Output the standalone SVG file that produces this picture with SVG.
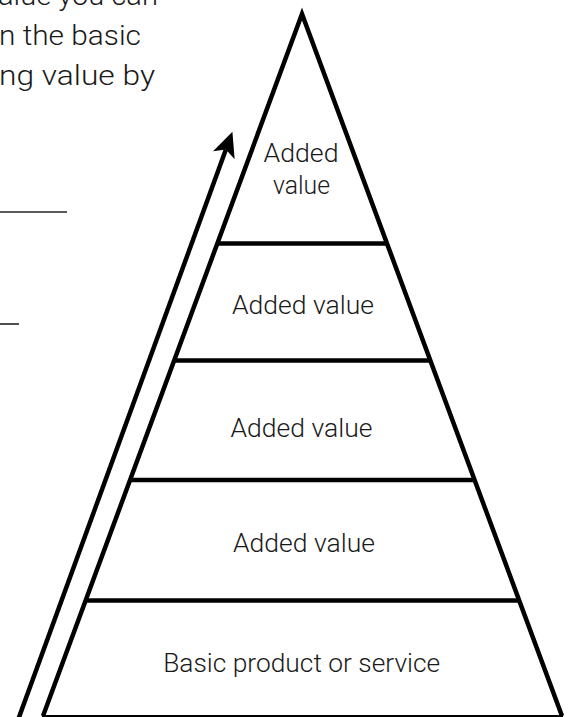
<svg xmlns="http://www.w3.org/2000/svg" width="572" height="717" viewBox="0 0 572 717">
  <style>
    .edge { fill: none; stroke: #000; stroke-width: 4.5; stroke-linejoin: miter; stroke-miterlimit: 10; }
    .base { stroke: #000; stroke-width: 2; }
    .divider { stroke: #000; stroke-width: 4.5; stroke-linecap: butt; }
    .rule { stroke: #222; stroke-width: 1.6; }
    .label { font-family: Roboto, "Liberation Sans", sans-serif; font-weight: 300; font-size: 25px; fill: #1a1a1a; text-anchor: middle; }
    .prose { font-family: Roboto, "Liberation Sans", sans-serif; font-weight: 300; font-size: 27px; fill: #1a1a1a; }
    .shaft { fill: none; stroke: #000; stroke-width: 4.5; }
  </style>
  <defs>
    <marker id="arrowhead" markerUnits="userSpaceOnUse" viewBox="-26 -13 28 26" markerWidth="28" markerHeight="26" refX="-19" refY="0" orient="auto">
      <path d="M0,0 L-25,-11.5 L-19,0 L-25,11.5 Z" fill="#000"/>
    </marker>
  </defs>

  <rect width="572" height="717" fill="#fff"/>

  <!-- question text running in from the left margin -->
  <g id="question-text">
    <text class="prose" x="-2" y="5" textLength="160" lengthAdjust="spacingAndGlyphs">alue you can</text>
    <text class="prose" x="-1" y="45" textLength="142" lengthAdjust="spacingAndGlyphs">n the basic</text>
    <text class="prose" x="-1" y="85" textLength="156" lengthAdjust="spacingAndGlyphs">ng value by</text>
    <line class="rule" x1="0" y1="212" x2="67" y2="212"/>
    <line class="rule" x1="0" y1="324" x2="19" y2="324"/>
  </g>

  <!-- pyramid outline -->
  <g id="pyramid">
    <polyline class="edge" points="43,716 302,14 562,716"/>
    <line class="base" x1="42" y1="716" x2="563" y2="716"/>
  </g>

  <!-- tiers, top to bottom -->
  <g id="tier-top">
    <text class="label" x="301" y="162" textLength="75" lengthAdjust="spacingAndGlyphs">Added</text>
    <text class="label" x="301.5" y="194" textLength="57" lengthAdjust="spacingAndGlyphs">value</text>
  </g>
  <g id="tier-2">
    <line class="divider" x1="217" y1="243.5" x2="387" y2="243.5"/>
    <text class="label" x="303" y="314" textLength="142" lengthAdjust="spacingAndGlyphs">Added value</text>
  </g>
  <g id="tier-3">
    <line class="divider" x1="174.5" y1="360.5" x2="430" y2="360.5"/>
    <text class="label" x="301.5" y="437" textLength="142" lengthAdjust="spacingAndGlyphs">Added value</text>
  </g>
  <g id="tier-4">
    <line class="divider" x1="130.5" y1="480" x2="474" y2="480"/>
    <text class="label" x="304" y="552" textLength="142" lengthAdjust="spacingAndGlyphs">Added value</text>
  </g>
  <g id="tier-base">
    <line class="divider" x1="86" y1="600.5" x2="518.5" y2="600.5"/>
    <text class="label" x="301.7" y="672" textLength="277" lengthAdjust="spacingAndGlyphs">Basic product or service</text>
  </g>

  <!-- rising arrow alongside the left edge -->
  <g id="connectors">
    <line class="shaft" x1="18" y1="720" x2="225.9" y2="149.6" marker-end="url(#arrowhead)"/>
  </g>
</svg>
